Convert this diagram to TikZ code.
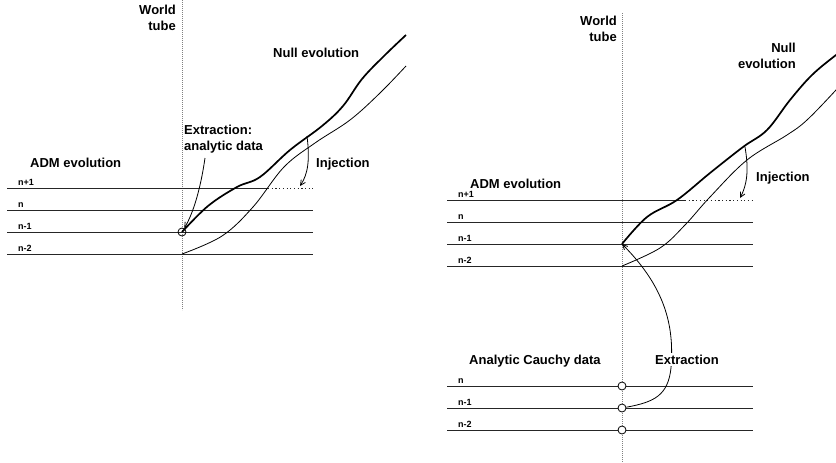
\documentclass[tikz,border=0pt]{standalone}
\usepackage{fontspec}
\setmainfont{Liberation Sans}
\usetikzlibrary{arrows.meta}

\begin{document}
\begin{tikzpicture}[
    x=1pt, y=-1pt,
    level/.style={draw=black!85, line width=0.9pt},
    openlevel/.style={draw=black!85, line width=0.9pt, dash pattern=on 1.2pt off 2.5pt},
    tube/.style={draw=black!50, line width=0.7pt, dash pattern=on 0.7pt off 1.3pt},
    heavy/.style={line width=1.7pt, line join=round},
    light/.style={line width=0.8pt},
    point/.style={draw, circle, line width=0.8pt, minimum size=8pt, inner sep=0pt},
    caption/.style={font=\fontsize{13}{16}\selectfont\bfseries, inner sep=0pt},
    tag/.style={font=\fontsize{9}{11}\selectfont\bfseries, inner sep=0pt, anchor=base west},
    arrow/.style={-{Straight Barb[length=5pt,width=5pt]}, line width=0.8pt}
]
\clip (0,0) rectangle (836,463);

% left: ADM evolution with injection on level n+1
\draw[tube] (182,0) -- (182,310);
\node[caption, align=right, anchor=north east] (tubeL) at (176,4.5) {World\\tube};

\draw[level] (7,188) -- (268,188);
\draw[openlevel] (268,188) -- (313,188);
\draw[level] (7,210) -- (313,210);
\draw[level] (7,232) -- (313,232);
\draw[level] (7,254) -- (313,254);
\node[tag] (np1L) at (18,185.5) {n+1};
\node[tag] (nL) at (18,207.5) {n};
\node[tag] (nm1L) at (18,229.5) {n-1};
\node[tag] (nm2L) at (18,251.5) {n-2};

\node[caption, anchor=base west] (admL) at (30,167) {ADM evolution};
\node[caption, anchor=base west] (nullL) at (273,57) {Null evolution};
\node[caption, align=left, anchor=north west] (extrL) at (184,125) {Extraction:\\analytic data};
\node[caption, anchor=base west] (injL) at (316,167) {Injection};

\node[point] (dataL) at (182,232) {};
\draw[heavy] plot[smooth, tension=0.6] coordinates {(182,232) (208,206) (237,187) (260,177)
    (290,150) (322,126) (343,106) (362,79) (384,56) (406,35)};
\draw[light] plot[smooth, tension=0.6] coordinates {(182,254) (222,236) (253,207) (284,167)
    (315,143) (350,120) (380,93) (406,66)};

\coordinate (fromL) at (205,158);
\draw[arrow] (fromL) .. controls (201,186) and (194,212) .. (dataL);
\coordinate (nullptL) at (307,136);
\coordinate (injptL) at (300,186);
\draw[arrow] (nullptL) .. controls (310,160) and (308,174) .. (injptL);

% right: extraction from analytic Cauchy data
\draw[tube] (622,13) -- (622,463);
\node[caption, align=right, anchor=north east] (tubeR) at (617,16) {World\\tube};

\draw[level] (447,200) -- (685,200);
\draw[openlevel] (685,200) -- (753,200);
\draw[level] (447,222) -- (753,222);
\draw[level] (447,244) -- (753,244);
\draw[level] (447,266) -- (753,266);
\node[tag] (np1R) at (458,197.5) {n+1};
\node[tag] (nR) at (458,219.5) {n};
\node[tag] (nm1R) at (458,241.5) {n-1};
\node[tag] (nm2R) at (458,263.5) {n-2};

\node[caption, anchor=base west] (admR) at (470,188) {ADM evolution};
\node[caption, align=right, anchor=north east] (nullR) at (796,43) {Null\\evolution};
\node[caption, anchor=base west] (injR) at (756,181) {Injection};

\coordinate (startR) at (622,244);
\draw[heavy] plot[smooth, tension=0.6] coordinates {(622,244) (647,217) (677,200) (710,173)
    (743,147) (767,130) (790,100) (812,75) (836,55) (850,45)};
\draw[light] plot[smooth, tension=0.6] coordinates {(622,266) (660,248) (685,225) (710,197)
    (747,160) (787,135) (807,120) (836,90) (848,76)};

\coordinate (nullptR) at (745,147);
\coordinate (injptR) at (740,198);
\draw[arrow] (nullptR) .. controls (749,170) and (747,185) .. (injptR);

\draw[level] (447,386) -- (753,386);
\draw[level] (447,408) -- (753,408);
\draw[level] (447,430) -- (753,430);
\node[tag] (nC) at (458,383.5) {n};
\node[tag] (nm1C) at (458,405.5) {n-1};
\node[tag] (nm2C) at (458,427.5) {n-2};
\node[caption, anchor=base west] (cauchy) at (469,364) {Analytic Cauchy data};

\node[point, fill=white] (dataC0) at (622,386) {};
\node[point, fill=white] (dataC1) at (622,408) {};
\node[point, fill=white] (dataC2) at (622,430) {};

\coordinate (bendR) at (671,368);
\draw[arrow] (dataC1) .. controls (655,402) and (668,395) .. (bendR)
    .. controls (674,330) and (668,290) .. (startR);
\node[caption, fill=white, inner sep=2pt, anchor=base west] (extrR) at (653,364) {Extraction};

\end{tikzpicture}
\end{document}
